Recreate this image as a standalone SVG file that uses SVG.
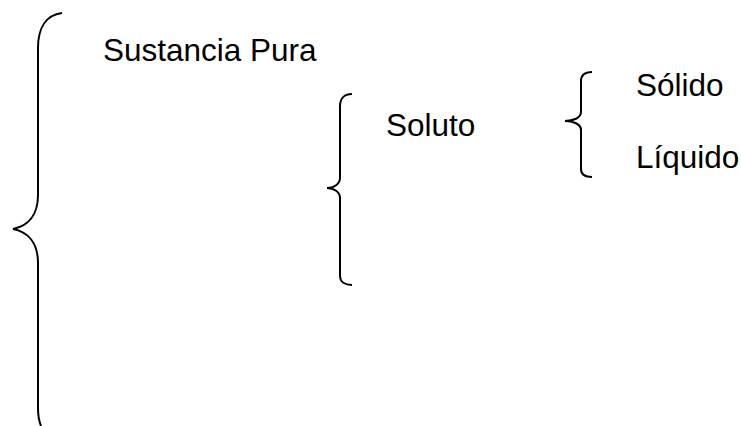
<svg xmlns="http://www.w3.org/2000/svg" width="741" height="426" viewBox="0 0 741 426">
  <style>
    .brace { fill: none; stroke: #000; stroke-width: 2; stroke-linecap: butt; }
    .label { font-family: "Liberation Sans", Arial, sans-serif; font-size: 31.5px; fill: #000; }
  </style>
  <rect width="741" height="426" fill="#fff"/>
  <g id="connectors">
    <path class="brace" d="M62,13 C46,15 38,28 38,48 L38,195 C38,215 28,226 13,229 C28,232 38,243 38,263 L38,408 C38,415 39,421 41,426"/>
    <path class="brace" d="M352,94 C345,94 340,98 340,106 L340,178 C340,184 334,188 327,188 C334,188 340,192 340,198 L340,276 C340,282 345,285 352,285"/>
    <path class="brace" d="M592,72 C585,72 581,75 581,81 L581,112 C581,118 573,121 565,121 C573,121 581,124 581,130 L581,169 C581,174 585,177 592,177"/>
  </g>
  <g id="sustancia-pura"><text class="label" x="103" y="61">Sustancia Pura</text></g>
  <g id="soluto"><text class="label" x="386" y="136">Soluto</text></g>
  <g id="solido"><text class="label" x="636" y="96">Sólido</text></g>
  <g id="liquido"><text class="label" x="636" y="168">Líquido</text></g>
</svg>
